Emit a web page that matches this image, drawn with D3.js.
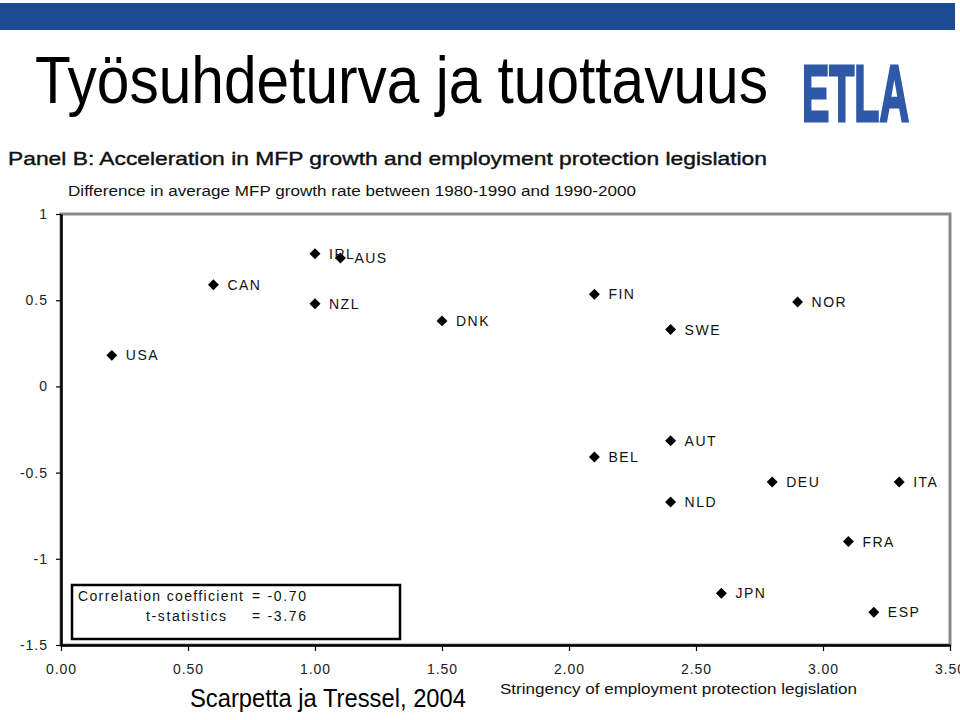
<!DOCTYPE html>
<html>
<head>
<meta charset="utf-8">
<script src="https://cdn.jsdelivr.net/npm/d3@7"></script>
<style>
  body { margin: 0; background: #fff; }
  svg { display: block; font-family: "Liberation Sans", Arial, sans-serif; }
</style>
</head>
<body>
<svg id="chart" width="960" height="720"></svg>
<script>
// data
const countries = ["USA", "CAN", "IRL", "AUS", "NZL", "DNK", "FIN", "NOR", "SWE", "AUT", "BEL", "DEU", "ITA", "NLD", "FRA", "JPN", "ESP"];
const eplValues = [0.20, 0.60, 1.00, 1.10, 1.00, 1.50, 2.10, 2.90, 2.40, 2.40, 2.10, 2.80, 3.30, 2.40, 3.10, 2.60, 3.20];
const mfpValues = [0.18, 0.59, 0.77, 0.745, 0.48, 0.38, 0.535, 0.49, 0.33, -0.315, -0.41, -0.555, -0.555, -0.67, -0.90, -1.20, -1.31];
const xTicks = [0, 0.5, 1, 1.5, 2, 2.5, 3, 3.5];
const yTicks = [1, 0.5, 0, -0.5, -1, -1.5];

const plot = {left: 61, right: 950, top: 214, bottom: 645};

const svg = d3.select("#chart");

// header: blue band, title, logo
svg.append("rect")
    .attr("x", 0).attr("y", 3)
    .attr("width", 955).attr("height", 27)
    .attr("fill", "#1d4b93");

svg.append("text")
    .attr("x", 35).attr("y", 103)
    .attr("textLength", 733).attr("lengthAdjust", "spacingAndGlyphs")
    .style("font-size", "66px")
    .attr("fill", "#000")
    .text("Työsuhdeturva ja tuottavuus");

svg.append("text")
    .attr("x", 802).attr("y", 121)
    .attr("textLength", 107).attr("lengthAdjust", "spacingAndGlyphs")
    .style("font-size", "80px").style("font-weight", "bold")
    .attr("fill", "#2f58a8").attr("stroke", "#2f58a8").attr("stroke-width", 3)
    .text("ETLA");

// panel titles
svg.append("text")
    .attr("x", 8).attr("y", 165)
    .attr("textLength", 759).attr("lengthAdjust", "spacingAndGlyphs")
    .style("font-size", "19px")
    .attr("fill", "#111").attr("stroke", "#111").attr("stroke-width", 0.4)
    .text("Panel B: Acceleration in MFP growth and employment protection legislation");

svg.append("text")
    .attr("x", 68).attr("y", 196)
    .attr("textLength", 568).attr("lengthAdjust", "spacingAndGlyphs")
    .style("font-size", "14px")
    .attr("fill", "#111")
    .text("Difference in average MFP growth rate between 1980-1990 and 1990-2000");

// scales
let x = d3.scaleLinear().domain([0, 3.5]).range([plot.left, plot.right]);
let y = d3.scaleLinear().domain([-1.5, 1]).range([plot.bottom, plot.top]);

// plot frame
svg.append("rect")
    .attr("x", plot.left).attr("y", plot.top)
    .attr("width", plot.right - plot.left).attr("height", plot.bottom - plot.top)
    .attr("fill", "none").attr("stroke", "#8a8a8a").attr("stroke-width", 3);

// axes
let yAxis = svg.append("g")
    .attr("transform", `translate(${plot.left},0)`)
    .call(d3.axisLeft(y).tickValues(yTicks).tickSize(5).tickSizeOuter(0).tickPadding(8)
        .tickFormat(d => String(d)));

let xAxis = svg.append("g")
    .attr("transform", `translate(0,${plot.bottom})`)
    .call(d3.axisBottom(x).tickValues(xTicks).tickSize(6).tickSizeOuter(0).tickPadding(13)
        .tickFormat(d3.format(".2f")));

[yAxis, xAxis].forEach(function(g) {
    g.select(".domain").attr("stroke", "#000").attr("stroke-width", 2.5);
    g.selectAll(".tick line").attr("stroke", "#000").attr("stroke-width", 1.2);
    g.selectAll(".tick text")
        .attr("fill", "#222")
        .style("font-size", "14px")
        .style("letter-spacing", "1px")
        .style("font-family", "'Liberation Sans', Arial, sans-serif");
});

// points
let pts = countries.map(function(c, i) { return {name: c, x: eplValues[i], y: mfpValues[i]}; });

svg.append("g").selectAll("path")
    .data(pts)
    .enter()
    .append("path")
    .attr("transform", d => `translate(${x(d.x)},${y(d.y)}) rotate(45)`)
    .attr("d", d3.symbol().type(d3.symbolSquare).size(60))
    .attr("fill", "#000");

svg.append("g").selectAll("text")
    .data(pts)
    .enter()
    .append("text")
    .attr("x", d => x(d.x) + 14)
    .attr("y", d => y(d.y) + 5)
    .style("font-size", "14px")
    .style("letter-spacing", "1.5px")
    .attr("fill", "#111")
    .text(d => d.name);

// correlation box
svg.append("rect")
    .attr("x", 72).attr("y", 585)
    .attr("width", 328).attr("height", 54)
    .attr("fill", "#fff").attr("stroke", "#000").attr("stroke-width", 2.5);

let box = svg.append("g").style("font-size", "14px").attr("fill", "#111");
box.append("text").attr("x", 78).attr("y", 601)
    .attr("textLength", 165).attr("lengthAdjust", "spacing")
    .text("Correlation coefficient");
box.append("text").attr("x", 252).attr("y", 601)
    .attr("textLength", 54).attr("lengthAdjust", "spacing")
    .text("= -0.70");
box.append("text").attr("x", 146).attr("y", 621)
    .attr("textLength", 80).attr("lengthAdjust", "spacing")
    .text("t-statistics");
box.append("text").attr("x", 252).attr("y", 621)
    .attr("textLength", 54).attr("lengthAdjust", "spacing")
    .text("= -3.76");

// axis title and source
svg.append("text")
    .attr("x", 500).attr("y", 694)
    .attr("textLength", 357).attr("lengthAdjust", "spacingAndGlyphs")
    .style("font-size", "14px")
    .attr("fill", "#111")
    .text("Stringency of employment protection legislation");

svg.append("text")
    .attr("x", 190).attr("y", 707)
    .attr("textLength", 276).attr("lengthAdjust", "spacingAndGlyphs")
    .style("font-size", "25px")
    .attr("fill", "#000")
    .text("Scarpetta ja Tressel, 2004");
</script>
</body>
</html>
